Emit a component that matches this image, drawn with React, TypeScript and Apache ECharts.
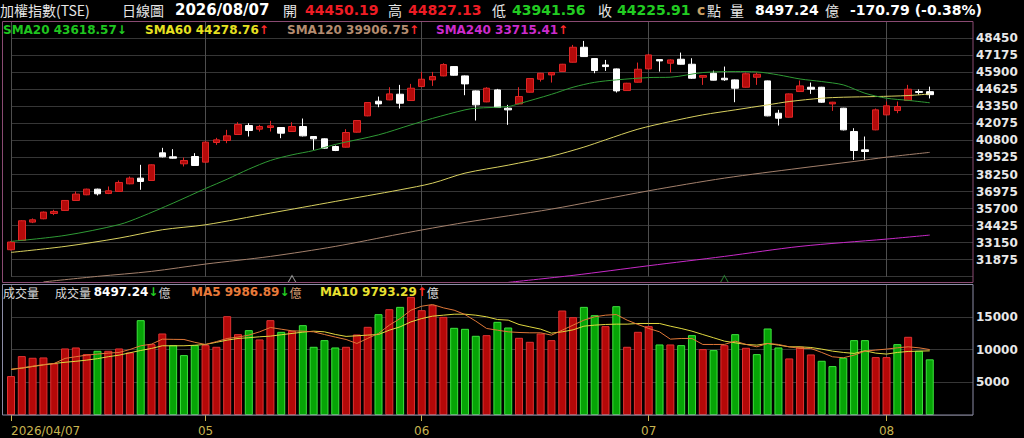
import React, { useEffect, useRef } from "react";
import * as echarts from "echarts";

// ---------- data ----------
const dates = [
  "2026/04/07","2026/04/08","2026/04/09","2026/04/10","2026/04/13","2026/04/14","2026/04/15","2026/04/16","2026/04/17","2026/04/20",
  "2026/04/21","2026/04/22","2026/04/23","2026/04/24","2026/04/27","2026/04/28","2026/04/29","2026/04/30",
  "2026/05/04","2026/05/05","2026/05/06","2026/05/07","2026/05/08","2026/05/11","2026/05/12","2026/05/13","2026/05/14","2026/05/15",
  "2026/05/18","2026/05/19","2026/05/20","2026/05/21","2026/05/22","2026/05/25","2026/05/26","2026/05/27","2026/05/28","2026/05/29",
  "2026/06/01","2026/06/02","2026/06/03","2026/06/04","2026/06/05","2026/06/08","2026/06/09","2026/06/10","2026/06/11","2026/06/12",
  "2026/06/15","2026/06/16","2026/06/17","2026/06/18","2026/06/22","2026/06/23","2026/06/24","2026/06/25","2026/06/26","2026/06/29","2026/06/30",
  "2026/07/01","2026/07/02","2026/07/03","2026/07/06","2026/07/07","2026/07/08","2026/07/09","2026/07/13","2026/07/14","2026/07/15",
  "2026/07/16","2026/07/17","2026/07/20","2026/07/21","2026/07/22","2026/07/23","2026/07/24","2026/07/27","2026/07/28","2026/07/29",
  "2026/07/30","2026/07/31",
  "2026/08/03","2026/08/04","2026/08/05","2026/08/06","2026/08/07",
];

const opens = [
  32620,33315,34686,34936,35335,35559,36307,36731,37154,36830,
  36980,37553,37977,37803,39872,39573,39049,39597,39174,40645,
  40794,41243,41916,41642,41767,41767,41467,41841,41093,40919,
  40345,40296,41418,42639,43736,43836,44260,43786,44833,45332,
  45631,46329,45631,44509,43686,44583,43212,43536,44409,45382,
  45705,45955,46653,47775,46927,46453,46154,44534,45157,46154,
  46852,46578,46877,46503,45531,45830,45456,45332,44783,45530,
  45257,42838,42539,44459,44783,44783,43536,43212,41467,40096,
  41592,42714,43038,43786,44459,44450.19,
];
const closes = [
  33195,34786,34861,35435,35484,36307,36780,37154,36805,37030,
  37653,37977,37728,38974,39573,39473,39298,38924,40670,40844,
  41143,41991,41542,41841,41891,41343,41841,41143,40919,40221,
  40046,41393,42290,43636,43536,44285,43586,44708,45382,45581,
  46478,45681,45033,43462,44708,43262,43088,44085,45431,45830,
  45880,46503,47775,47077,46030,46329,44509,45082,46129,47201,
  46752,46827,46503,45456,45656,45310,45340,44708,45790,45755,
  42639,42464,44285,44883,44634,43661,43661,41592,40046,39971,
  43088,43387,43337,44634,44396.70,44225.91,
];
const lows = [
  32560,33280,34612,34900,35210,35520,36280,36700,36681,36780,
  36950,37520,37104,37780,39530,39440,38850,38900,39150,40470,
  40595,41220,41093,41467,41467,40969,41440,41100,40096,40190,
  40000,40270,41390,42610,43287,43810,43188,43760,44800,44883,
  45600,45650,44185,42290,43660,43230,41966,43510,44380,45207,
  45132,45930,46630,47050,45830,46005,44384,44510,45130,46130,
  45955,45880,46480,45406,44957,45290,45257,43661,44760,44958,
  42610,41916,42510,44430,44285,43610,43013,41550,39348,39348,
  41560,42690,42838,43760,44230,43941.56,
];
const highs = [
  33260,34830,34960,35480,35609,36340,36980,37190,37190,37354,
  37803,38102,38974,39000,40246,40146,39523,39847,40745,40994,
  41592,42165,42090,41966,42265,41790,42165,42440,41120,40950,
  40420,41642,42320,43660,44085,44783,44958,45032,45930,45930,
  46578,46360,45660,44540,44783,44658,43462,44783,45460,45860,
  45910,46530,47949,48248,46950,46827,46180,45110,46628,47276,
  46877,46877,47376,46952,45680,46030,46329,45360,45880,45880,
  45280,43088,44310,45282,45132,44810,43690,43240,41717,41093,
  43190,43711,43711,44958,44620,44827.13,
];

// volume (億), 1 = red bar, 0 = green bar
const volumes = [
  5944,8992,8738,8788,7874,10160,10312,9296,9804,9804,
  10160,9550,14478,10820,12446,10668,9144,10668,10668,10414,
  15088,12344,12954,11532,14478,12700,12852,13716,10414,11430,
  10312,10414,12294,13462,15392,16154,16510,18034,16002,16764,
  14986,13310,13157,12090,12192,14224,13360,11786,11176,12446,
  11430,15951,14935,16510,15240,13564,16612,10414,12700,13564,
  10770,10770,10668,12192,10058,9906,10668,12344,10262,9296,
  13208,10312,8636,10414,9246,8280,7468,8738,11430,11430,
  8839,8839,10820,11938,9804,8497.24,
];
const volumeUp = [
  1,1,1,1,1,1,1,1,0,1,
  1,1,0,1,1,0,0,0,1,1,
  1,1,0,1,1,0,1,0,0,0,
  0,1,1,1,0,1,0,1,1,1,
  1,0,0,0,1,0,0,1,1,1,
  1,1,1,0,0,1,0,1,1,1,
  0,1,0,0,1,0,1,0,1,0,
  0,0,1,1,1,0,0,0,0,0,
  1,1,0,1,0,0,
];
const volMA5 = [
  6960,7200,7450,7700,7870,8640,8900,9140,9300,9450,
  9550,10000,10570,10820,11580,11550,11530,11100,10770,11200,
  11680,11900,12190,12700,13360,13100,12850,12800,12700,12290,
  11900,11530,10920,11700,12450,13720,14730,16000,16610,16870,
  16360,16000,15340,14330,13210,12950,12700,12600,12550,12550,
  12190,12950,13720,14480,14990,15240,15340,14480,13820,13210,
  12700,11580,11680,11680,10770,10770,10770,11280,10770,10410,
  10920,10770,10410,10160,10160,9550,8890,8740,9140,9750,
  9910,10060,10260,10410,10260,9986.89,
];
const volMA10 = [
  6960,7150,7400,7650,7870,8050,8200,8380,8600,8900,
  9140,9500,9850,10160,10570,10570,10570,10650,10770,11100,
  11430,11680,11800,11940,12040,12250,12450,12650,12800,12700,
  12300,12000,12090,12200,12290,12950,13460,14220,14730,15090,
  15240,15390,15390,15240,14990,14580,14480,13820,13460,13110,
  12500,12700,13000,13560,13720,13820,13870,13870,13970,13970,
  13970,13560,13210,12800,12290,11790,11280,11020,10770,10670,
  10920,10670,10410,10410,10310,10060,9750,9550,9400,9800,
  9450,9300,9550,9700,9750,9793.29,
];

// moving averages of the index, read at selected candles: [candle index, value]
const sma20Pts = [
  [0,33241],[5,33690],[10,34500],[12,35080],[15,36108],[18,37200],[20,37900],[22,38650],[24,39300],[26,39722],
  [28,40046],[30,40500],[34,41218],[37,41966],[39,42450],[42,43088],[43,43212],[46,43337],[47,43550],[50,44250],
  [52,44783],[54,45150],[56,45331],[59,45506],[61,45531],[64,45880],[67,45955],[69,45930],[71,45705],[73,45400],
  [75,45207],[77,44958],[79,44334],[81,43960],[83,43800],[85,43618.57],
];
const sma60Pts = [
  [0,32418],[5,32867],[10,33490],[14,34114],[18,34487],[24,35360],[30,36233],[36,37105],[39,37604],[42,38352],
  [46,38950],[50,39620],[53,40300],[55,40845],[58,41642],[61,42215],[64,42714],[67,43088],[70,43462],[72,43711],
  [75,43960],[77,44035],[80,44085],[83,44160],[85,44278.76],
];
const sma120Pts = [
  [3,30210],[8,30624],[13,30998],[18,31546],[24,32119],[30,32867],[36,33800],[42,34662],[50,35660],[59,37031],
  [66,37978],[73,38726],[78,39225],[81,39549],[85,39906.75],
];
const sma240Pts = [
  [46,30175],[52,30700],[59,31422],[66,32120],[73,32868],[81,33416],[85,33715.41],
];

// small triangle markers at the foot of the price panel
const markerIdx = [26, 66];
const markerColors = ["#b8b8b8", "#2f8f3a"];
const markerLevel = 30420;

// axis scales
const priceMin = 30600, priceMax = 49725, priceStep = 1275;
const volMin = 0, volMax = 20000, volStep = 5000;
const padSlots = 4; // empty slots at the right edge of the panels

// ---------- colours / fonts ----------
const RED = "#ee1c24";
const GREEN = "#22cc22";
const NUM = '"DejaVu Sans", "Liberation Sans", sans-serif';
const CJK = '"Noto Sans CJK TC", "Noto Sans CJK SC", sans-serif';

const categories = [...dates, ...Array.from({ length: padSlots }, (_, k) => `pad${k}`)];
const isMarkedDay = (i: number) =>
  i === 0 || (i > 0 && i < dates.length && dates[i].slice(5, 7) !== dates[i - 1].slice(5, 7));

function txt(x: number, y: number, text: string, fill: string, font: string) {
  return { type: "text", x, y, z: 100, silent: true, style: { text, fill, font, verticalAlign: "middle" } };
}
function rich(x: number, y: number, parts: [string, string, string][]) {
  const richStyles: Record<string, any> = {};
  let text = "";
  parts.forEach(([t, fill, font], k) => {
    richStyles["p" + k] = { fill, font };
    text += `{p${k}|${t}}`;
  });
  return { type: "text", x, y, z: 100, silent: true, style: { text, rich: richStyles, verticalAlign: "middle" } };
}
const arrow = (a: number, b: number): [string, string] => (a >= b ? ["↑", "#ff2a2a"] : ["↓", GREEN]);

export default function App() {
  const ref = useRef<HTMLDivElement>(null);

  useEffect(() => {
    if (!ref.current) return;
    const chart = echarts.init(ref.current, null, { renderer: "svg" });
    const last = dates.length - 1;
    const change = closes[last] - closes[last - 1];
    const pct = (change / closes[last - 1]) * 100;
    const lastPt = (p: number[][]) => p[p.length - 1][1];
    const prevPt = (p: number[][]) => p[p.length - 2][1];

    const candleData = dates.map((_, i) => [opens[i], closes[i], lows[i], highs[i]]);
    const volData = volumes.map((v, i) => ({
      value: v,
      itemStyle: volumeUp[i]
        ? { color: "#b40808", borderColor: "#e03232", borderWidth: 1 }
        : { color: "#06a406", borderColor: "#3ee43e", borderWidth: 1 },
    }));

    const bold14 = `bold 14px ${NUM}`;
    const bold12 = `bold 12px ${NUM}`;
    const cjk14 = `14px ${CJK}`;
    const cjk12 = `12px ${CJK}`;

    const maLegend = (name: string, pts: number[][], color: string): [string, string, string][] => {
      const [a, ac] = arrow(lastPt(pts), prevPt(pts));
      return [[`${name} ${lastPt(pts).toFixed(2)}`, color, bold12], [a, ac, bold12]];
    };
    const [va, vac] = arrow(volumes[last], volumes[last - 1]);
    const [m5a, m5c] = arrow(volMA5[last], volMA5[last - 1]);
    const [m10a, m10c] = arrow(volMA10[last], volMA10[last - 1]);

    const graphics: any[] = [
      { type: "rect", z: 50, silent: true, shape: { x: 2.5, y: 21.5, width: 970.5, height: 261 }, style: { fill: "none", stroke: "#8a4a72", lineWidth: 1 } },
      { type: "rect", z: 50, silent: true, shape: { x: 2.5, y: 284.5, width: 970.5, height: 130.5 }, style: { fill: "none", stroke: "#8c8ca6", lineWidth: 1 } },
      txt(0, 10, "加權指數(TSE)", "#e6e6e6", cjk14),
      txt(122, 10, "日線圖", "#e6e6e6", cjk14),
      txt(175, 10, dates[last], "#ffffff", `bold 15px ${NUM}`),
      txt(283, 10, "開", "#e6e6e6", cjk14),
      txt(305, 10, opens[last].toFixed(2), RED, bold14),
      txt(388, 10, "高", "#e6e6e6", cjk14),
      txt(408, 10, highs[last].toFixed(2), RED, bold14),
      txt(492, 10, "低", "#e6e6e6", cjk14),
      txt(512, 10, lows[last].toFixed(2), GREEN, bold14),
      txt(598, 10, "收", "#e6e6e6", cjk14),
      txt(617, 10, closes[last].toFixed(2), GREEN, bold14),
      txt(697, 10, "c", "#c8a064", bold14),
      txt(707, 10, "點", "#e6e6e6", cjk14),
      txt(730, 10, "量", "#e6e6e6", cjk14),
      txt(755, 10, volumes[last].toFixed(2), "#ffffff", bold14),
      txt(825, 10, "億", "#e6e6e6", cjk14),
      txt(850, 10, `${change.toFixed(2)} (${pct.toFixed(2)}%)`, "#ffffff", bold14),
      rich(3, 30, maLegend("SMA20", sma20Pts, "#1fc41f")),
      rich(145, 30, maLegend("SMA60", sma60Pts, "#e6e020")),
      rich(287, 30, maLegend("SMA120", sma120Pts, "#b48c70")),
      rich(436, 30, maLegend("SMA240", sma240Pts, "#cc2bcc")),
      txt(3, 292, "成交量", "#d8d8d8", cjk12),
      rich(55, 292, [["成交量 ", "#d8d8d8", cjk12], [volumes[last].toFixed(2), "#ffffff", bold12], [va, vac, bold12], ["億", "#c8c8c8", cjk12]]),
      rich(191, 292, [[`MA5 ${volMA5[last].toFixed(2)}`, "#e87a3a", bold12], [m5a, m5c, bold12], ["億", "#d09a70", cjk12]]),
      rich(320, 292, [[`MA10 ${volMA10[last].toFixed(2)}`, "#e8e030", bold12], [m10a, m10c, bold12], ["億", "#dddddd", cjk12]]),
    ];

    const splitX = { show: true, interval: (i: number) => isMarkedDay(i), lineStyle: { color: "#4e4e4e", width: 1 } };
    const yLabel = {
      color: "#e8e8e8", fontWeight: "bold", fontSize: 12, fontFamily: NUM, margin: 3,
      showMinLabel: false, showMaxLabel: false, formatter: (v: number) => String(v),
    };
    const lineS = (data: any, color: string, xi: number, smooth: number | boolean) => ({
      type: "line", xAxisIndex: xi, yAxisIndex: xi, data, symbol: "none", smooth, clip: false, z: 5,
      lineStyle: { color, width: 1 }, silent: true,
    });

    chart.setOption({
      animation: false,
      backgroundColor: "#000000",
      grid: [
        { left: 11, right: 51, top: 21.2, height: 255.5 },
        { left: 11, right: 51, top: 284, height: 131 },
      ],
      xAxis: [
        { type: "category", gridIndex: 0, data: categories, boundaryGap: false, axisLine: { show: false }, axisTick: { show: false }, axisLabel: { show: false }, splitLine: splitX },
        {
          type: "category", gridIndex: 1, data: categories, boundaryGap: false, axisLine: { show: false },
          axisTick: { show: true, interval: (i: number) => isMarkedDay(i), length: 6, lineStyle: { color: "#c8b450" } },
          axisLabel: {
            show: true, interval: (i: number) => isMarkedDay(i), color: "#c8b450", fontSize: 12, fontFamily: NUM, margin: 10,
            alignMinLabel: "left",
            formatter: (v: string, i: number) => (i === 0 ? v : v.slice(5, 7)),
          },
          splitLine: splitX,
        },
      ],
      yAxis: [
        { type: "value", gridIndex: 0, position: "right", min: priceMin, max: priceMax, interval: priceStep, axisLine: { show: false }, axisTick: { show: false }, axisLabel: yLabel, splitLine: { show: true, lineStyle: { color: "#363636", width: 1 } } },
        { type: "value", gridIndex: 1, position: "right", min: volMin, max: volMax, interval: volStep, axisLine: { show: false }, axisTick: { show: false }, axisLabel: yLabel, splitLine: { show: true, lineStyle: { color: "#363636", width: 1 } } },
      ],
      series: [
        {
          type: "candlestick", xAxisIndex: 0, yAxisIndex: 0, data: candleData, barWidth: 7, clip: false, z: 3, silent: true,
          itemStyle: { color: "#b40a0a", color0: "#ffffff", borderColor: "#e02626", borderColor0: "#ffffff", borderWidth: 1 },
        },
        lineS(sma240Pts, "#c82ac8", 0, 0.3),
        lineS(sma120Pts, "#a3806c", 0, 0.3),
        lineS(sma60Pts, "#d8d060", 0, 0.3),
        lineS(sma20Pts, "#2f9a35", 0, 0.3),
        {
          type: "scatter", xAxisIndex: 0, yAxisIndex: 0, symbol: "triangle", symbolSize: [8, 7], clip: false, silent: true, z: 6,
          data: markerIdx.map((i, k) => ({ value: [i, markerLevel], itemStyle: { color: "rgba(0,0,0,0)", borderColor: markerColors[k], borderWidth: 1 } })),
        },
        { type: "bar", xAxisIndex: 1, yAxisIndex: 1, data: volData, barWidth: 8, clip: false, z: 3, silent: true },
        lineS(volMA10, "#e0d840", 1, false),
        lineS(volMA5, "#e07838", 1, false),
      ],
      graphic: graphics,
    });
    return () => chart.dispose();
  }, []);

  return (
    <div style={{ position: "fixed", left: 0, top: 0, width: 1024, height: 438, background: "#000" }}>
      <div ref={ref} style={{ width: 1024, height: 438 }} />
    </div>
  );
}
